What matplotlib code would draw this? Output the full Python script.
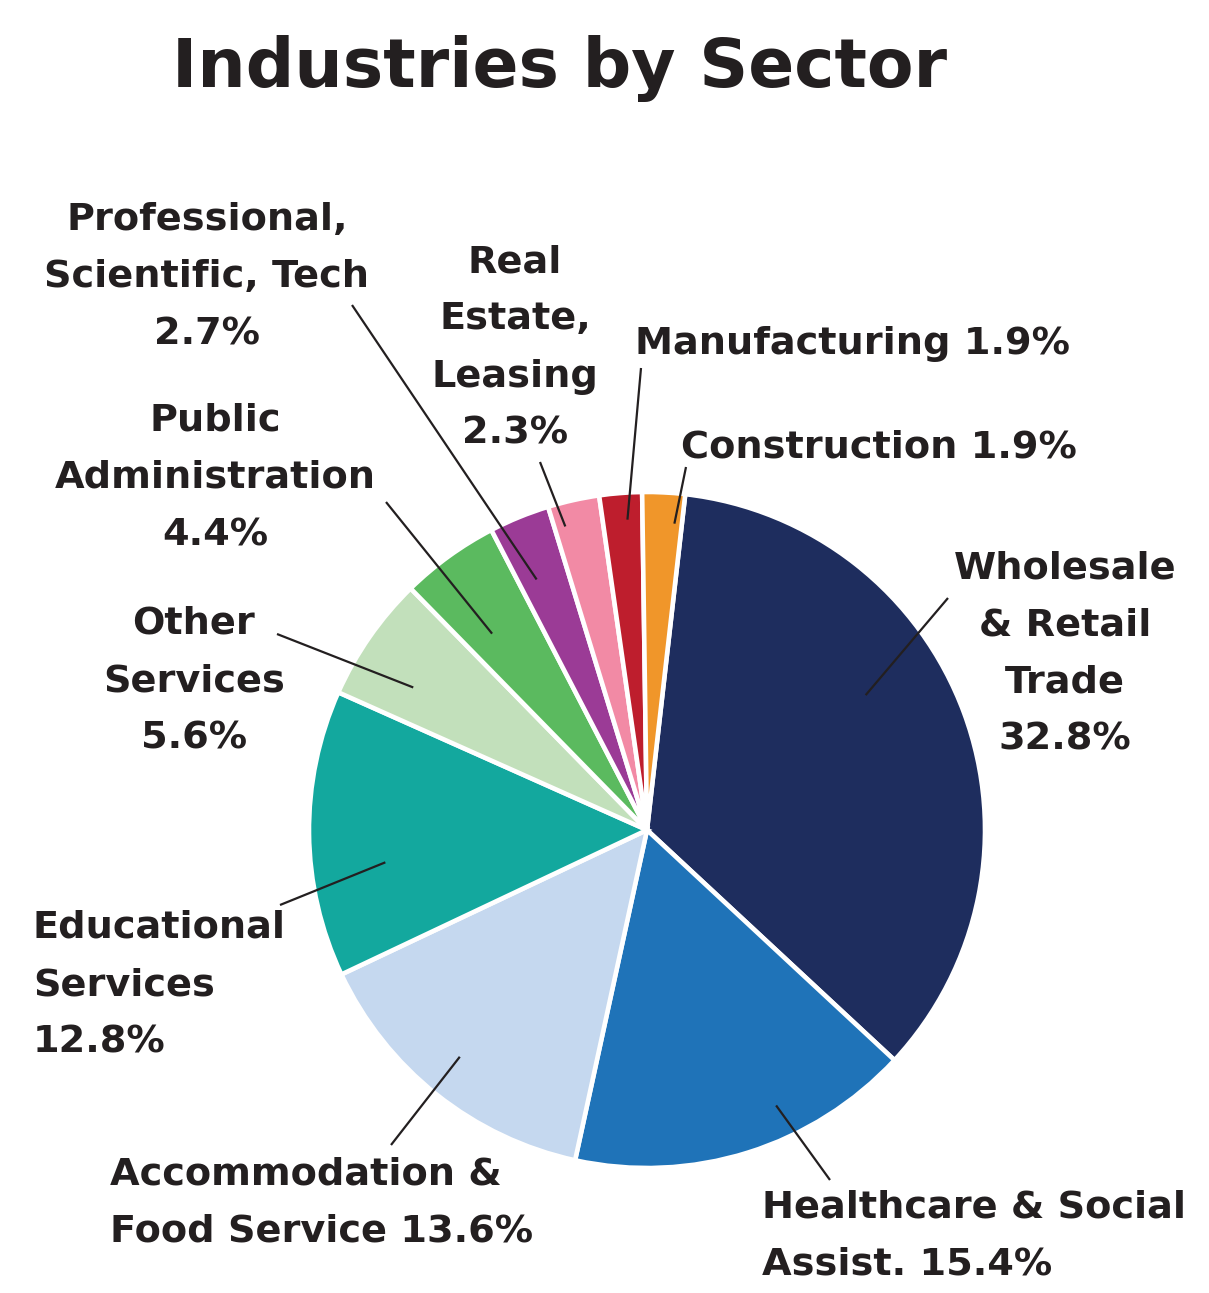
import numpy as np
import matplotlib
matplotlib.use('Agg')
import matplotlib.pyplot as plt

# sectors, clockwise from the top
sectors = ['Wholesale\n& Retail\nTrade', 'Healthcare & Social\nAssist.',
           'Accommodation &\nFood Service', 'Educational\nServices',
           'Other\nServices', 'Public\nAdministration',
           'Professional,\nScientific, Tech', 'Real\nEstate,\nLeasing',
           'Manufacturing', 'Construction']
shares = [32.8, 15.4, 13.6, 12.8, 5.6, 4.4, 2.7, 2.3, 1.9, 1.9]
# how the percent is joined to the name (new line or same line)
pct_sep = ['\n', ' ', ' ', '\n', '\n', '\n', '\n', '\n', ' ', ' ']
colors = ['#1e2d5e', '#1f73b8', '#c5d8ef', '#13a89e', '#c2e0bb',
          '#5bba5f', '#9b3b96', '#f28aa5', '#be1e2d', '#f0962a']

W, H = 1209, 1293
TXT = '#231f20'

fig = plt.figure(figsize=(W / 100, H / 100), dpi=100)
ax = fig.add_axes([0, 0, 1, 1])

cx, cy, R = 647, H - 830, 338
wedges, _ = ax.pie(shares, colors=colors, startangle=83.5, counterclock=False,
                   center=(cx, cy), radius=R,
                   wedgeprops=dict(edgecolor='white', linewidth=3.3))
ax.set_xlim(0, W)
ax.set_ylim(0, H)
ax.set_aspect('equal')
ax.axis('off')

# label layout: (x, y in pixels from top, ha), leader end (px), tip in wedge (frac, radius frac)
layout = [
    ((1065, 654, 'center'), (948, 598), (0.41, 0.76)),
    ((762, 1236, 'left'), (830, 1180), (0.37, 0.90)),
    ((110, 1203, 'left'), (391, 1145), (0.52, 0.87)),
    ((33, 985, 'left'), (280, 905), (0.37, 0.78)),
    ((194, 681, 'center'), (277, 634), (0.34, 0.81)),
    ((215, 478, 'center'), (386, 502), (0.36, 0.74)),
    ((207, 277, 'center'), (352, 305), (0.35, 0.81)),
    ((515, 348, 'center'), (540, 462), (0.22, 0.93)),
    ((635, 344, 'left'), (641, 368), (0.62, 0.92)),
    ((681, 447, 'left'), (686, 467), (0.81, 0.91)),
]

for w, name, val, sep, (pos, lend, tip) in zip(wedges, sectors, shares, pct_sep, layout):
    x, y, ha = pos
    ax.text(x, H - y, name + sep + f'{val:.1f}%', ha=ha, va='center',
            multialignment=ha, fontsize=27.5, fontweight='bold', color=TXT,
            linespacing=1.76, family='DejaVu Sans')
    # tip point inside the wedge, measured clockwise from its start
    ang = np.deg2rad(w.theta2 - tip[0] * (w.theta2 - w.theta1))
    tx = cx + tip[1] * R * np.cos(ang)
    ty = cy + tip[1] * R * np.sin(ang)
    ax.plot([lend[0], tx], [H - lend[1], ty], color=TXT, lw=1.6,
            solid_capstyle='butt')

fig.text(560 / W, 1 - 68 / H, 'Industries by Sector', ha='center', va='center',
         fontsize=49, fontweight='heavy', color=TXT, family='DejaVu Sans')

plt.savefig('out.png', dpi=100, facecolor='white')
